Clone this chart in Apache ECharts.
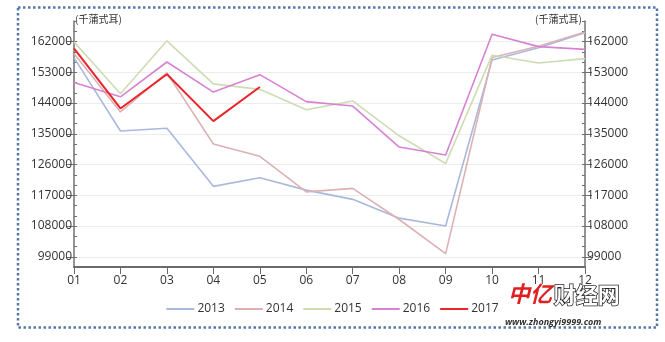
<!DOCTYPE html>
<html><head><meta charset="utf-8">
<script src="https://cdn.jsdelivr.net/npm/echarts@6/dist/echarts.min.js"></script>
<style>html,body{margin:0;padding:0;background:#fff}#c{width:665px;height:342px}</style>
</head><body><div id="c"></div>
<script>
const months = ['01','02','03','04','05','06','07','08','09','10','11','12'];
const s2013 = [157300,135800,136600,119600,122100,118500,115800,110300,108000,156600,160200,164600];
const s2014 = [158500,141400,152800,132000,128400,118000,119000,109900,99900,157300,160600,164800];
const s2015 = [161900,146700,162200,149600,148000,142000,144600,134400,126300,158000,155700,157000];
const s2016 = [150000,145800,156000,147200,152300,144400,143100,131100,128800,164100,160500,159700];
const s2017 = [160000,142400,152400,138700,148700];
const yLabels = [99000,108000,117000,126000,135000,144000,153000,162000];
const unitName = '(千蒲式耳)';
const seriesNames = ['2013','2014','2015','2016','2017'];
const colors = ['#a9b9db','#ddb1b4','#cddcb4','#d882d3','#e8252a'];

const font = '"Open Sans", "Noto Sans", sans-serif';
const chart = echarts.init(document.getElementById('c'), null, {renderer:'canvas'});
const yMin = 96000, yMax = 168000;
function mainAxis(pos){
  return {type:'value', position:pos, min:yMin, max:yMax, interval:3000,
    axisLine:{show:true, lineStyle:{color:'#707070', width:1.5}},
    axisTick:{show:true, inside:true, length:3, lineStyle:{color:'#707070', width:1}},
    axisLabel:{show:false}, splitLine:{show:false}};
}
function labelAxis(pos, split){
  return {type:'value', position:pos, min:yMin, max:yMax,
    axisLine:{show:false},
    axisTick:{show:true, length:7, customValues:yLabels, lineStyle:{color:'#707070', width:1}},
    axisLabel:{show:true, customValues:yLabels, margin:2, color:'#333', fontSize:12, fontFamily:font,
      formatter:v=>String(v)},
    splitLine:{show:split, lineStyle:{color:'#ececec', width:1}}};
}
const data = [s2013,s2014,s2015,s2016,s2017];
const option = {
  animation:false,
  backgroundColor:'#fff',
  grid:{left:74, right:80, top:21, bottom:75},
  legend:{
    data:seriesNames, top:298, left:'center', itemWidth:28, itemHeight:2, itemGap:10,
    icon:'rect',
    textStyle:{color:'#333', fontSize:12, fontFamily:font, padding:[0,0,0,-2]}
  },
  xAxis:{type:'category', data:months, boundaryGap:false,
    axisLine:{lineStyle:{color:'#6a6a6a', width:2}},
    axisTick:{show:true, length:7, alignWithLabel:true, lineStyle:{color:'#6a6a6a', width:1}},
    axisLabel:{color:'#333', fontSize:12, margin:8, fontFamily:font}},
  yAxis:[mainAxis('left'), labelAxis('left', true), mainAxis('right'), labelAxis('right', false)],
  series: seriesNames.map((n,i)=>({
    name:n, type:'line', data:data[i], yAxisIndex:0, symbol:'none',
    lineStyle:{color:colors[i], width: i===4 ? 2 : 1.6},
    itemStyle:{color:colors[i]}, z: i===4 ? 5 : 2
  })),
  graphic:[
    {type:'text', left:75, top:14, style:{text:unitName, fontSize:10, fill:'#333', fontFamily:'"Noto Sans CJK SC", sans-serif'}},
    {type:'text', left:535, top:14, style:{text:unitName, fontSize:10, fill:'#333', fontFamily:'"Noto Sans CJK SC", sans-serif'}},
    {type:'rect', shape:{x:18, y:7.5, width:639, height:320}, silent:true,
      style:{fill:null, stroke:'#5577aa', lineWidth:2.5, lineDash:[2.5,2.5]}},
    {type:'text', left:508, top:283, style:{text:'中亿', fontSize:22, fontWeight:'bold', fontStyle:'italic', fill:'#e02020', fontFamily:'"Noto Sans CJK SC", sans-serif'}},
    {type:'text', left:553, top:283, style:{text:'财经网', fontSize:22, fontWeight:'bold', fill:'#fff', stroke:'#222', lineWidth:1.5, fontFamily:'"Noto Sans CJK SC", sans-serif'}},
    {type:'text', left:505, top:318, style:{text:'www.zhongyi9999.com', fontSize:9, fontStyle:'italic', fontWeight:'bold', fill:'#333', fontFamily:font}}
  ]
};
chart.setOption(option);
</script></body></html>
